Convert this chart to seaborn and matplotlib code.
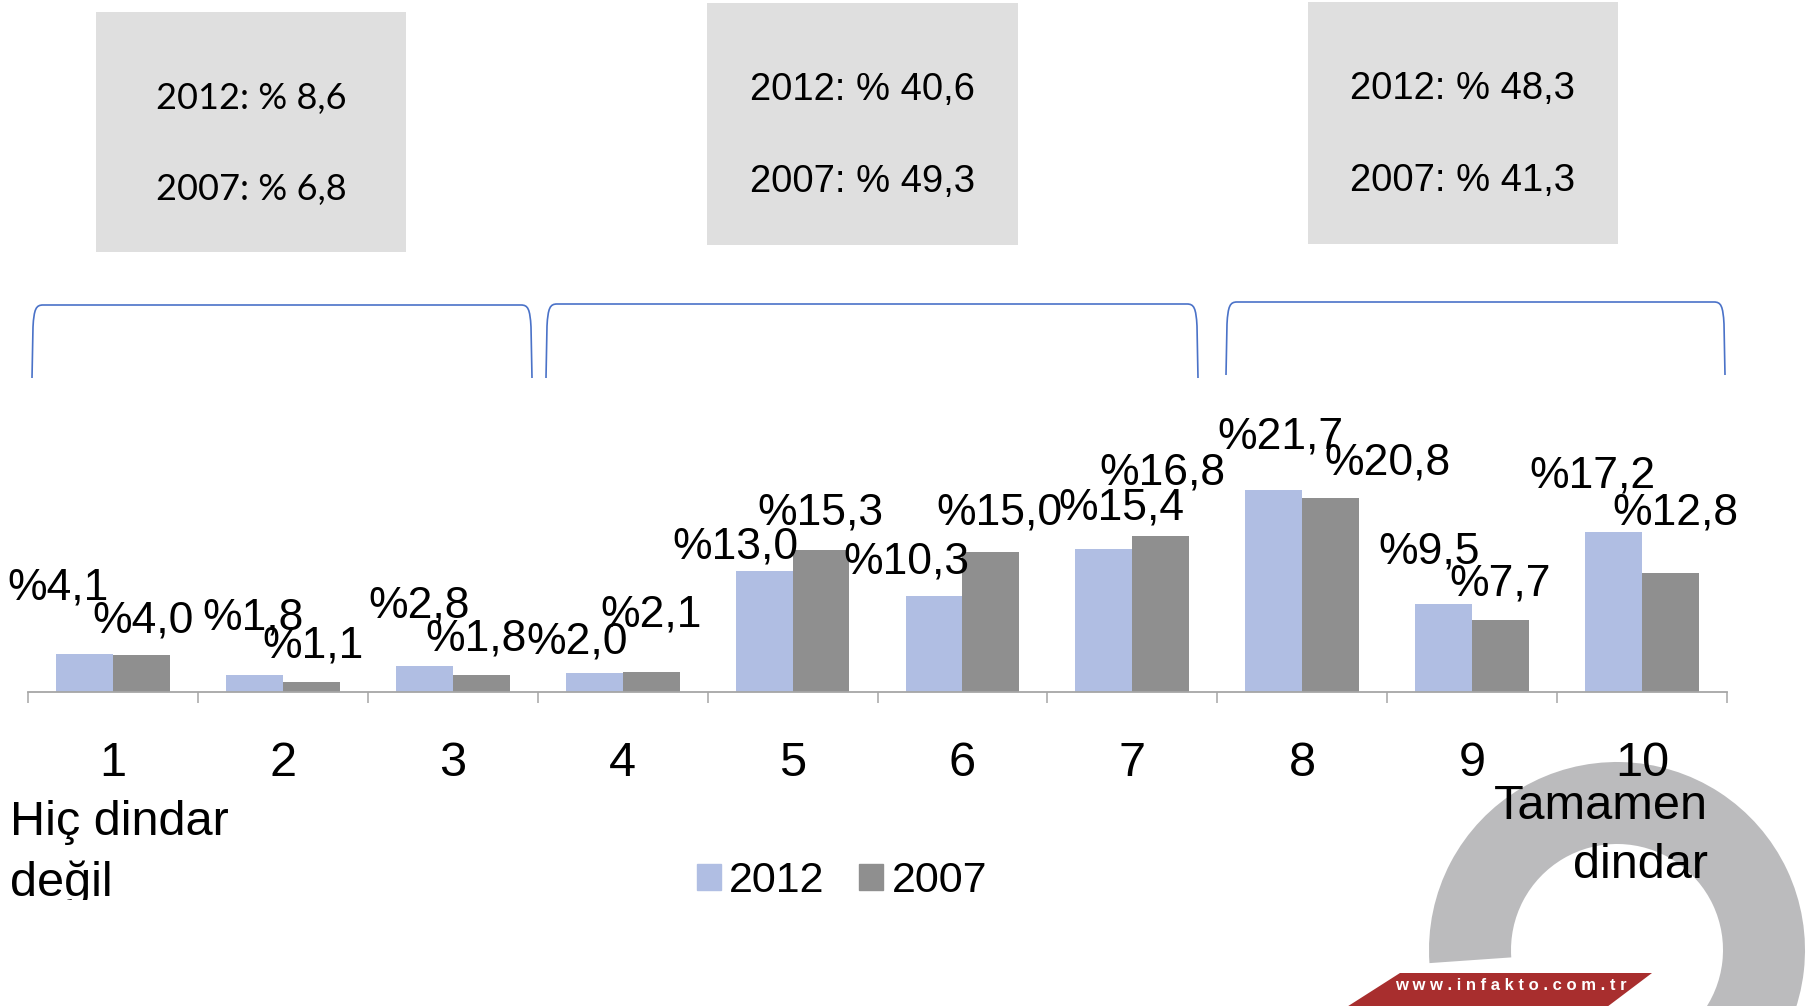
import numpy as np
import pandas as pd
import seaborn as sns
import matplotlib.pyplot as plt
from matplotlib import font_manager
from matplotlib.patches import Rectangle, Wedge, Polygon, PathPatch, Patch
from matplotlib.path import Path

# data
categories = ['1', '2', '3', '4', '5', '6', '7', '8', '9', '10']
years = ['2012', '2007']
vals_2012 = [4.1, 1.8, 2.8, 2.0, 13.0, 10.3, 15.4, 21.7, 9.5, 17.2]
vals_2007 = [4.0, 1.1, 1.8, 2.1, 15.3, 15.0, 16.8, 20.8, 7.7, 12.8]
box_2012 = ['8,6', '40,6', '48,3']
box_2007 = ['6,8', '49,3', '41,3']
end_left = 'Hiç dindar\ndeğil'
end_right = 'Tamamen\ndindar'
site = 'www.infakto.com.tr'

col_2012 = '#b0bee3'
col_2007 = '#8f8f8f'

# label offsets from bar tops, pixels (dx right, dy up)
off_2012 = [(-26, 66), (-1, 57), (-5, 60), (-17, 31), (-29, 24),
            (-28, 34), (17, 41), (7, 53), (-15, 52), (-21, 56)]
off_2007 = [(2, 34), (2, 36), (-5, 36), (0, 57), (-1, 37),
            (9, 39), (2, 63), (57, 35), (0, 36), (5, 60)]

sns.set_style('white')
plt.rcParams['font.family'] = ['Liberation Sans', 'DejaVu Sans']
plt.rcParams['text.color'] = 'black'
plt.rcParams['xtick.color'] = 'black'
plt.rcParams['xtick.labelcolor'] = 'black'

try:
    font_manager.findfont('Liberation Sans Narrow', fallback_to_default=False)
    lab_font, lab_size = 'Liberation Sans Narrow', 39
except Exception:
    lab_font, lab_size = 'Liberation Sans', 32

W, H = 1820, 1006
fig = plt.figure(figsize=(W / 100, H / 100), dpi=100)

# background layer in pixel coords (y down)
bg = fig.add_axes([0, 0, 1, 1], zorder=0)
bg.set_xlim(0, W)
bg.set_ylim(H, 0)
bg.axis('off')

# infakto ring + banner
bg.add_patch(Wedge((1617, 950), 188, 176, 430, width=82, color='#bbbbbd', lw=0))
bg.add_patch(Polygon([(1400, 973), (1652, 973), (1603, 1010), (1342, 1010)],
                     closed=True, color='#a82e2e', lw=0))
bg.text(1511, 985, ' '.join(site), color='white', fontsize=12, fontweight='bold',
        ha='center', va='center')

# summary boxes
boxes = [(96, 12, 310, 240, 'Lato', 26), (707, 3, 311, 242, 'Liberation Sans', 27.5),
         (1308, 2, 310, 242, 'Liberation Sans', 27.5)]
for (bx, by, bw, bh, fam, fs), a, b in zip(boxes, box_2012, box_2007):
    bg.add_patch(Rectangle((bx, by), bw, bh, color='#dfdfdf', lw=0))
    cx = bx + bw / 2
    bg.text(cx, by + 0.36 * bh, '2012: % ' + a, family=[fam, 'DejaVu Sans'],
            fontsize=fs, ha='center', va='center')
    bg.text(cx, by + 0.74 * bh, '2007: % ' + b, family=[fam, 'DejaVu Sans'],
            fontsize=fs, ha='center', va='center')

# brackets
def bracket(x0, x1, yt, yb):
    verts = [(x0, yb), (x0 + 1, yt + 22), (x0 + 2, yt + 4), (x0 + 4, yt), (x0 + 11, yt),
             (x1 - 11, yt), (x1 - 4, yt), (x1 - 2, yt + 4), (x1 - 1, yt + 22), (x1, yb)]
    codes = [Path.MOVETO, Path.LINETO, Path.CURVE4, Path.CURVE4, Path.CURVE4,
             Path.LINETO, Path.CURVE4, Path.CURVE4, Path.CURVE4, Path.LINETO]
    bg.add_patch(PathPatch(Path(verts, codes), fill=False, edgecolor='#4a72c8', lw=1.2))

bracket(32, 532, 305, 378)
bracket(546, 1198, 304, 378)
bracket(1226, 1725, 302, 375)

# main bar chart
df = pd.DataFrame({
    'kategori': categories * 2,
    'yil': [years[0]] * len(categories) + [years[1]] * len(categories),
    'deger': vals_2012 + vals_2007,
})

base_y = 692
px_per_unit = 9.31
ax = fig.add_axes([28 / W, 1 - base_y / H, 1699 / W, base_y / H], zorder=1)
ax.patch.set_alpha(0)
sns.barplot(data=df, x='kategori', y='deger', hue='yil', hue_order=years,
            palette=[col_2012, col_2007], width=0.67, gap=0, saturation=1,
            edgecolor='none', legend=False, ax=ax)
ax.set_xlim(-0.5, len(categories) - 0.5)
ax.set_ylim(0, base_y / px_per_unit)
ax.set_xlabel('')
ax.set_ylabel('')
ax.set_yticks([])
for s in ['top', 'left', 'right']:
    ax.spines[s].set_visible(False)
ax.spines['bottom'].set_color('#a6a6a6')
ax.spines['bottom'].set_linewidth(1.3)
ax.set_xticks(np.arange(-0.5, len(categories)), minor=True)
ax.tick_params(axis='x', which='minor', bottom=True, length=8, width=1.1,
               color='#a6a6a6', direction='out')
ax.tick_params(axis='x', which='major', length=0, pad=35, labelsize=35)

for cont, vals, offs in zip(ax.containers, [vals_2012, vals_2007], [off_2012, off_2007]):
    for bar, v, (dx, dy) in zip(cont, vals, offs):
        txt = '%' + f'{v:.1f}'.replace('.', ',')
        ax.annotate(txt, (bar.get_x() + bar.get_width() / 2, bar.get_height()),
                    xytext=(dx * 0.72, dy * 0.72), textcoords='offset points',
                    ha='center', va='center', family=[lab_font, 'DejaVu Sans'],
                    fontsize=lab_size, annotation_clip=False)

# end labels
t = fig.text(10 / W, 1 - 853 / H, end_left, fontsize=35, ha='left', va='center',
             linespacing=1.45)
t.set_clip_path(Rectangle((0, 0), W, 900, transform=bg.transData))
fig.text(1708 / W, 1 - 836 / H, end_right, fontsize=35, ha='right', va='center',
         linespacing=1.42)

handles = [Patch(color=col_2012), Patch(color=col_2007)]
fig.legend(handles, years, loc='center', bbox_to_anchor=(842 / W, 1 - 881 / H),
           frameon=False, ncol=2, fontsize=31, handlelength=0.55, handleheight=0.55,
           handletextpad=0.2, columnspacing=0.8, borderpad=0)

fig.savefig('out.png', dpi=100)
